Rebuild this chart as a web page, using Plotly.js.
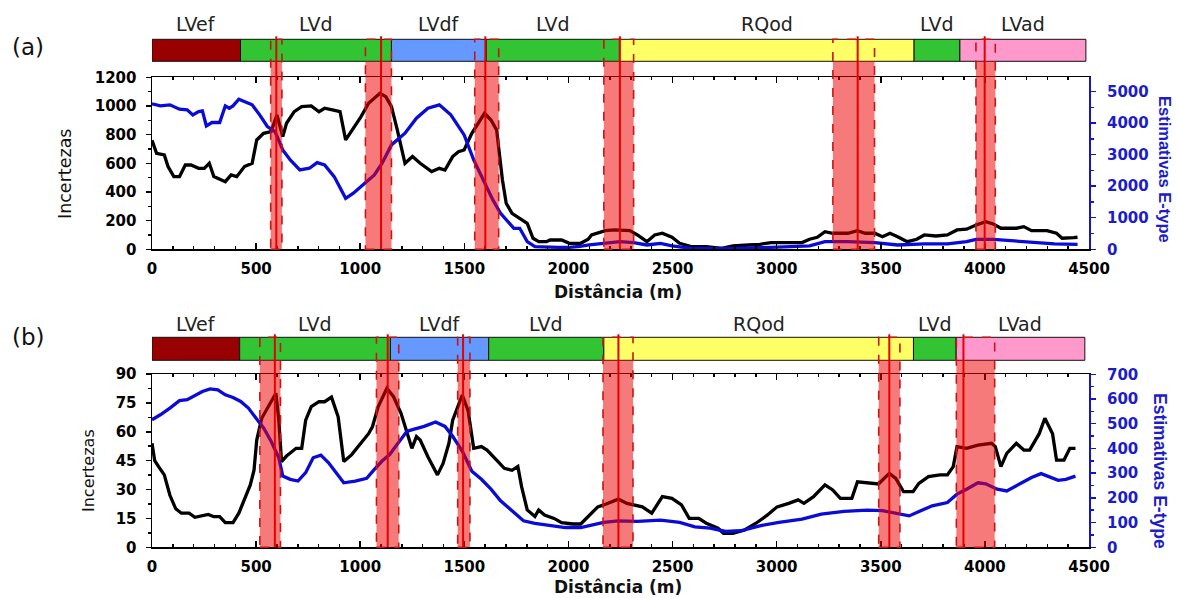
<!DOCTYPE html>
<html>
<head>
<meta charset="utf-8">
<script src="https://cdn.plot.ly/plotly-3.0.1.min.js"></script>
<style>html,body{margin:0;padding:0;background:#fff;}#chart{width:1177px;height:598px;}</style>
</head>
<body>
<div id="chart"></div>
<script>
// ---------------- DATA ----------------
// Panel (a): Incertezas (left axis)
const distA_inc = [0,22,59,77,105,132,160,187,224,251,275,297,352,380,407,444,481,503,536,572,600,628,646,683,719,765,802,829,866,903,930,958,1004,1040,1095,1123,1150,1178,1215,1251,1288,1343,1380,1407,1444,1472,1499,1536,1597,1628,1655,1683,1701,1729,1766,1802,1830,1857,1894,1912,1967,2004,2059,2095,2111,2177,2221,2295,2331,2377,2414,2451,2497,2534,2589,2662,2736,2790,2864,2919,2974,3048,3122,3158,3195,3232,3269,3342,3388,3425,3471,3508,3544,3581,3627,3673,3709,3765,3820,3866,3912,3958,4004,4040,4077,4151,4187,4224,4298,4344,4371,4426,4445];
const incA = [760,670,658,577,507,507,588,588,565,565,600,507,472,519,507,577,600,763,809,821,937,786,879,960,995,1000,960,984,972,960,763,821,926,1019,1088,1065,995,833,600,647,600,542,565,553,647,681,693,809,949,902,833,484,321,251,216,181,77,53,53,65,65,42,42,70,100,130,135,130,100,53,100,112,84,42,19,19,7,23,30,35,47,47,47,70,84,123,112,112,130,112,112,88,112,88,53,70,100,93,100,135,140,170,193,177,147,147,158,130,130,112,77,81,84];
// Panel (a): Estimativas E-type (right axis)
const distA_est = [0,40,86,132,169,196,224,242,261,288,325,352,371,389,417,444,481,517,554,591,628,664,710,756,793,829,875,930,967,1022,1068,1105,1150,1215,1270,1325,1380,1435,1499,1545,1600,1637,1674,1710,1738,1766,1802,1839,1894,1949,2004,2055,2100,2177,2247,2313,2377,2442,2497,2589,2790,2974,3158,3232,3342,3471,3581,3709,3820,3912,3958,4040,4132,4261,4334,4445];
const estA = [4608,4545,4577,4439,4418,4260,4365,4387,3911,4017,4017,4545,4471,4545,4757,4683,4577,4260,3890,3731,3150,2833,2516,2569,2748,2674,2304,1617,1776,2093,2357,2727,3308,3678,4154,4471,4577,4260,3625,2833,2093,1564,1142,877,666,666,243,85,63,63,63,90,140,190,243,211,137,190,106,32,32,63,106,243,243,211,137,169,169,243,317,317,275,211,169,159];

// Panel (b): Incertezas (left axis)
const distB_inc = [0,13,31,59,86,114,141,178,206,242,270,297,325,352,389,417,444,472,490,503,527,554,595,609,622,646,692,719,738,765,802,829,862,894,921,958,1004,1040,1059,1086,1128,1160,1196,1224,1248,1270,1288,1325,1371,1398,1426,1444,1490,1518,1545,1582,1609,1655,1692,1729,1757,1775,1802,1839,1857,1885,1931,1967,2022,2059,2105,2141,2169,2240,2281,2355,2400,2451,2497,2543,2580,2626,2662,2718,2745,2790,2846,2901,2956,3002,3058,3103,3131,3177,3232,3269,3306,3361,3388,3453,3489,3541,3572,3609,3655,3683,3729,3784,3820,3848,3866,3912,3967,4032,4050,4077,4105,4151,4187,4215,4261,4288,4325,4344,4380,4408,4435];
const incB = [54,45,42,37.6,27,20,17.7,17.7,15.6,16.3,17.1,15.9,15.9,12.8,12.8,17.7,24.6,32.4,40,55.7,67,72,80,66,44.5,47.4,51.4,51.4,66,73,75.6,75.6,78,67.8,44.5,48,54,59,62.7,73,82.6,78.2,69.6,59,51.4,57.5,55.7,47,37.6,43.6,54,66,79,71,51.4,52.3,50.5,45.3,41,40,42,31.5,19.4,16,19.4,16.8,15,12.8,12.1,12.1,16.8,21,22,25,22.8,21,17.7,26.3,25.4,22,15,15,12.5,9.9,7.3,7.3,9,12.5,16.8,21,22.8,24.6,22.8,26.3,32.4,29.8,25.4,25.4,34,33.2,32.9,38.4,35.8,28.9,28.9,33.2,36.7,37.6,37.6,41.9,52.3,51.4,53.1,54,52.3,41.9,48.8,54,50.5,50.5,59,67,59,45.3,45.3,51.4,51.4];
// Panel (b): Estimativas E-type (right axis)
const distB_est = [0,40,86,132,169,215,242,279,316,352,389,426,463,499,536,572,609,628,664,701,738,774,811,848,884,921,976,1031,1068,1105,1141,1178,1224,1251,1307,1362,1407,1444,1490,1536,1582,1628,1674,1729,1784,1839,1912,1985,2059,2105,2169,2240,2331,2442,2534,2607,2681,2755,2827,2919,3011,3122,3214,3324,3434,3508,3563,3636,3692,3747,3820,3866,3912,3967,4004,4059,4105,4151,4224,4270,4316,4352,4389,4435];
const estB = [516,536,563,593,597,617,630,641,637,617,606,590,563,523,483,429,362,288,275,268,302,362,373,342,302,261,268,279,315,349,375,416,469,476,489,507,489,449,389,308,275,235,188,148,107,97,87,80,80,90,101,107,105,110,101,83,78,64,67,87,101,114,134,145,150,148,138,127,148,168,181,215,235,261,257,235,228,248,282,298,282,271,275,288];

// Soil units strip
const unitNames = ['LVef','LVd','LVdf','LVd','RQod','LVd','LVad'];
const unitBoundsA = [0,425,1150,1605,2245,3660,3880,4485];
const unitBoundsB = [0,421,1145,1617,2170,3657,3862,4480];

// Transition zones (start, end, centre)
const zoneStartA = [570,1025,1550,2170,3270,3957];
const zoneEndA   = [624,1150,1665,2313,3470,4050];
const zoneMidA   = [597,1100,1601,2247,3389,3999];
const zoneStartB = [518,1078,1468,2166,3490,3863];
const zoneEndB   = [617,1185,1527,2310,3592,4047];
const zoneMidB   = [590,1132,1494,2240,3541,3897];

const xTicks = [0,500,1000,1500,2000,2500,3000,3500,4000,4500];

// ---------------- STYLE ----------------
const unitColor = {LVef:'#990000', LVd:'#33c433', LVdf:'#6699ff', RQod:'#ffff66', LVad:'#ff99cc'};
const BLUE = '#0b0bd8', BLUETXT = '#1c1cc8';
const TICKFONT = {family:'DejaVu Sans, sans-serif', size:15, color:'#000', weight:'bold'};
const H = 598;
const py = px => 1 - px / H;

const panels = [
  {xa:'x',  ya:'y',  plotTop:77.3,  plotBot:249.3, stripTop:39.3,  stripBot:61.3,  labelY:24,
   bounds:unitBoundsA, zs:zoneStartA, ze:zoneEndA, zm:zoneMidA, tag:'(a)', tagY:46.7,
   incX:65, incY:174, incSize:17.5, estX:1165, estY:169, estSize:16.5, distY:291.7},
  {xa:'x2', ya:'y3', plotTop:374,   plotBot:547.3, stripTop:337.3, stripBot:360.3, labelY:324,
   bounds:unitBoundsB, zs:zoneStartB, ze:zoneEndB, zm:zoneMidB, tag:'(b)', tagY:336.7,
   incX:88, incY:471, incSize:16, estX:1160, estY:471, estSize:17.5, distY:587}
];

const traces = [
  {x:distA_inc, y:incA, xaxis:'x', yaxis:'y', mode:'lines', line:{color:'#000', width:3.3}, showlegend:false, hoverinfo:'skip'},
  {x:distA_est, y:estA, xaxis:'x', yaxis:'y2', mode:'lines', line:{color:BLUE, width:3.3}, showlegend:false, hoverinfo:'skip'},
  {x:distB_inc, y:incB, xaxis:'x2', yaxis:'y3', mode:'lines', line:{color:'#000', width:3.3}, showlegend:false, hoverinfo:'skip'},
  {x:distB_est, y:estB, xaxis:'x2', yaxis:'y4', mode:'lines', line:{color:BLUE, width:3.3}, showlegend:false, hoverinfo:'skip'}
];

const shapes = [];
const annotations = [];
const L = 152, PW = 937;
const pxX = px => (px - L) / PW;

panels.forEach(p => {
  for (let i = 0; i < unitNames.length; i++) {
    shapes.push({type:'rect', xref:p.xa, yref:'paper', x0:p.bounds[i], x1:p.bounds[i+1],
      y0:py(p.stripBot), y1:py(p.stripTop), fillcolor:unitColor[unitNames[i]],
      line:{color:'#111', width:1}, layer:'above'});
    annotations.push({xref:p.xa, yref:'paper', x:(p.bounds[i]+p.bounds[i+1])/2, y:py(p.labelY),
      text:unitNames[i], showarrow:false, xanchor:'center', yanchor:'middle',
      font:{family:'DejaVu Sans, sans-serif', size:19, color:'#222'}});
  }
  for (let i = 0; i < p.zs.length; i++) {
    shapes.push({type:'rect', xref:p.xa, yref:'paper', x0:p.zs[i], x1:p.ze[i],
      y0:py(p.plotBot), y1:py(p.stripBot), fillcolor:'rgba(240,0,0,0.52)', line:{width:0}, layer:'above'});
    shapes.push({type:'rect', xref:p.xa, yref:'paper', x0:p.zs[i], x1:p.ze[i],
      y0:py(p.plotBot), y1:py(p.stripTop), fillcolor:'rgba(0,0,0,0)',
      line:{color:'#c81414', width:1.6, dash:'dash'}, layer:'above'});
    shapes.push({type:'line', xref:p.xa, yref:'paper', x0:p.zm[i], x1:p.zm[i],
      y0:py(p.plotBot), y1:py(p.stripTop - 3), line:{color:'#e60000', width:2}, layer:'above'});
  }
  annotations.push({xref:'paper', yref:'paper', x:pxX(28), y:py(p.tagY), text:p.tag, showarrow:false,
    xanchor:'center', yanchor:'middle', font:{family:'DejaVu Sans, sans-serif', size:23, color:'#111'}});
  annotations.push({xref:'paper', yref:'paper', x:pxX(p.incX), y:py(p.incY), text:'Incertezas', showarrow:false,
    textangle:-90, xanchor:'center', yanchor:'middle', font:{family:'DejaVu Sans, sans-serif', size:p.incSize, color:'#111'}});
  annotations.push({xref:'paper', yref:'paper', x:pxX(p.estX), y:py(p.estY), text:'Estimativas E-type', showarrow:false,
    textangle:90, xanchor:'center', yanchor:'middle', font:{family:'Liberation Sans, Arial, sans-serif', size:p.estSize, color:BLUETXT, weight:'bold'}});
  annotations.push({xref:'paper', yref:'paper', x:pxX(618), y:py(p.distY), text:'Distância (m)', showarrow:false,
    xanchor:'center', yanchor:'middle', font:{family:'DejaVu Sans, sans-serif', size:17, color:'#111', weight:'bold'}});
});

function xAxis(anchor) {
  return {anchor:anchor, domain:[0,1], range:[0,4500], tickvals:xTicks, ticktext:xTicks.map(String),
    ticks:'inside', ticklen:6, tickwidth:1.5, tickcolor:'#000',
    minor:{dtick:100, tick0:0, ticks:'inside', ticklen:3, tickwidth:1.5, tickcolor:'#000'},
    showline:true, linewidth:1.5, linecolor:'#000', mirror:'ticks', showgrid:false, zeroline:false,
    tickfont:TICKFONT, ticklabelstandoff:5, automargin:false, fixedrange:true};
}
function yLeft(dom, anchor, range, dtick, minor) {
  return {anchor:anchor, domain:dom, range:range, dtick:dtick, tick0:0, ticks:'outside', ticklen:5, tickwidth:1.5,
    tickcolor:'#000', minor:{dtick:minor, ticks:'outside', ticklen:3, tickwidth:1.5, tickcolor:'#000'},
    showline:true, linewidth:1.5, linecolor:'#000', showgrid:false, zeroline:false,
    tickfont:TICKFONT, ticklabelstandoff:6, automargin:false, fixedrange:true};
}
function yRight(over, anchor, range, dtick, minor) {
  return {anchor:anchor, overlaying:over, side:'right', range:range, dtick:dtick, tick0:0, ticks:'outside', ticklen:5,
    tickwidth:1.5, tickcolor:'#1515c8', minor:{dtick:minor, ticks:'outside', ticklen:3, tickwidth:1.5, tickcolor:'#1515c8'},
    showline:true, linewidth:2, linecolor:'#1515c8', showgrid:false, zeroline:false,
    tickfont:Object.assign({}, TICKFONT, {color:BLUETXT}), ticklabelstandoff:8, automargin:false, fixedrange:true};
}

const layout = {
  width:1177, height:598,
  margin:{l:152, r:88, t:0, b:0, pad:0},
  paper_bgcolor:'#fff', plot_bgcolor:'#fff',
  showlegend:false,
  xaxis: xAxis('y'),
  yaxis: yLeft([py(249.3), py(77.3)], 'x', [0,1200], 200, 100),
  yaxis2: yRight('y', 'x', [0,5450], 1000, 500),
  xaxis2: xAxis('y3'),
  yaxis3: yLeft([py(547.3), py(374)], 'x2', [0,90], 15, 7.5),
  yaxis4: yRight('y3', 'x2', [0,701], 100, 50),
  shapes: shapes,
  annotations: annotations
};

Plotly.newPlot('chart', traces, layout, {staticPlot:true, displayModeBar:false});
</script>
</body>
</html>
